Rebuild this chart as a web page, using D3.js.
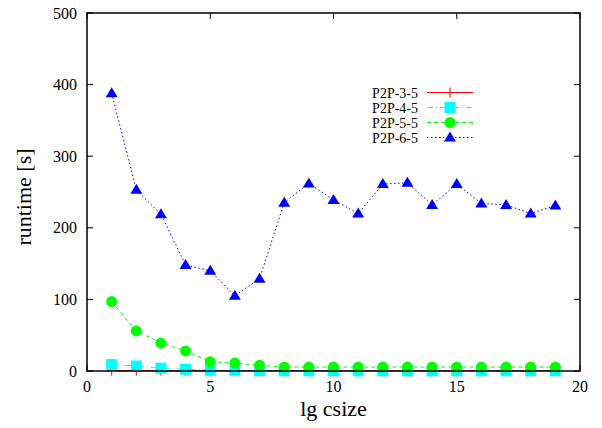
<!DOCTYPE html>
<html>
<head>
<meta charset="utf-8">
<script src="https://cdn.jsdelivr.net/npm/d3@7"></script>
<style>
body{margin:0;background:#fff;}
</style>
</head>
<body>
<div class="chart"></div>
<script>
// 画布大小
var width = 602, height = 428;
var margin = {left: 87, right: 22, top: 13, bottom: 57};
var serif = "'Liberation Serif', 'Times New Roman', Times, 'DejaVu Serif', serif";

var csize = [1,2,3,4,5,6,7,8,9,10,11,12,13,14,15,16,17,18,19];
var p2p35 = [0.5,0.5,0.5,0.5,0.5,0.5,0.5,0.5,0.5,0.5,0.5,0.5,0.5,0.5,0.5,0.5,0.5,0.5,0.5];
var p2p45 = [9,7,4,2.5,1,1,0.5,0.3,0.3,0.3,0.3,0.3,0.3,0.3,0.3,0.3,0.3,0.3,0.3];
var p2p55 = [97,56,39,28,13,11,8,5.5,5.5,5.5,5.5,5.5,5.5,5.5,5.5,5.5,5.5,5.5,5.5];
var p2p65 = [388,253,219,148,140,105,129,235,262,239,220,261,263,232,261,234,232,220,231];
var xTicks = [0,5,10,15,20];
var yTicks = [0,100,200,300,400,500];

var series = [
    {name:'P2P-3-5', values:p2p35, color:'#ff0000', dash:null, mark:'plus'},
    {name:'P2P-4-5', values:p2p45, color:'#00ffff', dash:'6,3,1,3', mark:'square'},
    {name:'P2P-5-5', values:p2p55, color:'#00ff00', dash:'4,3', mark:'circle'},
    {name:'P2P-6-5', values:p2p65, color:'#0000ff', dash:'1.5,2.5', mark:'triangle'}
];

var svg = d3.select('.chart').append('svg')
    .attr('width', width)
    .attr('height', height);

var x = d3.scaleLinear().domain([0,20]).range([margin.left, width - margin.right]);
var y = d3.scaleLinear().domain([0,500]).range([height - margin.bottom, margin.top]);

function label(g, tx, ty, size, anchor, str) {
    return g.append('text').attr('x', tx).attr('y', ty)
        .attr('text-anchor', anchor)
        .attr('font-family', serif)
        .attr('font-size', size + 'px')
        .attr('fill', '#000')
        .text(str);
}

var tl = 6;
var axes = svg.append('g');
// 刻度 (inward, mirrored)
xTicks.forEach(function (t) {
    axes.append('line').attr('x1', x(t)).attr('x2', x(t))
        .attr('y1', y(0)).attr('y2', y(0) - tl).attr('stroke', '#000');
    axes.append('line').attr('x1', x(t)).attr('x2', x(t))
        .attr('y1', y(500)).attr('y2', y(500) + tl).attr('stroke', '#000');
    label(axes, x(t), y(0) + 21, 16, 'middle', t);
});
yTicks.forEach(function (t) {
    axes.append('line').attr('x1', x(0)).attr('x2', x(0) + tl)
        .attr('y1', y(t)).attr('y2', y(t)).attr('stroke', '#000');
    axes.append('line').attr('x1', x(20)).attr('x2', x(20) - tl)
        .attr('y1', y(t)).attr('y2', y(t)).attr('stroke', '#000');
    label(axes, x(0) - 10, y(t) + 5.5, 16, 'end', t);
});

label(svg, (x(0) + x(20)) / 2, 416, 22, 'middle', 'lg csize');
label(svg, 0, 0, 22, 'middle', 'runtime [s]')
    .attr('transform', 'translate(31,197) rotate(-90)');

function drawMark(g, kind, cx, cy, color) {
    if (kind == 'plus') {
        g.append('path').attr('d', 'M' + (cx - 5) + ',' + cy + 'H' + (cx + 5) + 'M' + cx + ',' + (cy - 5) + 'V' + (cy + 5))
            .attr('stroke', color).attr('stroke-width', 1);
    } else if (kind == 'square') {
        g.append('rect').attr('x', cx - 5.5).attr('y', cy - 5.5).attr('width', 11).attr('height', 11)
            .attr('fill', color);
    } else if (kind == 'circle') {
        g.append('circle').attr('cx', cx).attr('cy', cy).attr('r', 5.5).attr('fill', color);
    } else {
        g.append('path').attr('d', 'M' + cx + ',' + (cy - 6) + 'L' + (cx + 6) + ',' + (cy + 4) + 'L' + (cx - 6) + ',' + (cy + 4) + 'Z')
            .attr('fill', color);
    }
}

var line = d3.line()
    .x(function (d, i) { return x(csize[i]); })
    .y(function (d) { return y(d); });

series.forEach(function (s) {
    var g = svg.append('g');
    g.append('path').datum(s.values)
        .attr('d', line)
        .attr('fill', 'none')
        .attr('stroke', s.color)
        .attr('stroke-width', 1)
        .attr('stroke-dasharray', s.dash);
    s.values.forEach(function (v, i) {
        drawMark(g, s.mark, x(csize[i]), y(v), s.color);
    });
});

// 边框
svg.append('rect').attr('x', x(0)).attr('y', y(500))
    .attr('width', x(20) - x(0)).attr('height', y(0) - y(500))
    .attr('fill', 'none').attr('stroke', '#000').attr('stroke-width', 1.5);

// 图例
var leg = svg.append('g');
series.forEach(function (s, i) {
    var ly = 92.5 + 15 * i;
    label(leg, 418, ly + 5, 14, 'end', s.name);
    leg.append('line').attr('x1', 427).attr('x2', 473).attr('y1', ly).attr('y2', ly)
        .attr('stroke', s.color).attr('stroke-width', 1).attr('stroke-dasharray', s.dash);
    drawMark(leg, s.mark, 450, ly, s.color);
});
</script>
</body>
</html>
